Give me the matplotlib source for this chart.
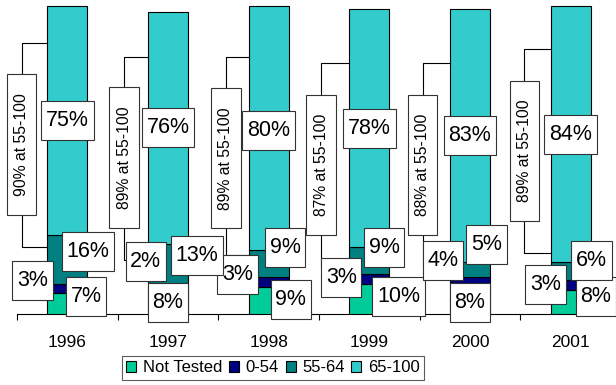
import matplotlib
matplotlib.use("Agg")
import matplotlib.pyplot as plt
from matplotlib.patches import Patch
import numpy as np

plt.rcParams['font.family'] = ['Liberation Sans', 'DejaVu Sans']

years = ["1996", "1997", "1998", "1999", "2000", "2001"]
series_names = ["Not Tested", "0-54", "55-64", "65-100"]
not_tested = [7, 8, 9, 10, 8, 8]
low_0_54 = [3, 2, 3, 3, 4, 3]
mid_55_64 = [16, 13, 9, 9, 5, 6]
high_65_100 = [75, 76, 80, 78, 83, 84]
bracket_labels = ["90% at 55-100", "89% at 55-100", "89% at 55-100",
                  "87% at 55-100", "88% at 55-100", "89% at 55-100"]

colors = ["#00CC99", "#000080", "#008080", "#33CCCC"]

# layout of annotations (offsets from category centre, y in %)
bracket_dx = [-0.453, -0.436, -0.425, -0.48, -0.47, -0.46]
bracket_top = [89.0, 84.4, 84.4, 82.2, 82.2, 86.8]
bracket_bot = [22.0, 17.7, 19.3, 15.5, 15.5, 20.1]
bracket_text_y = [55.6, 51.3, 51.1, 48.9, 48.9, 53.5]
# label positions per series: (dx, y)
pos_nt = [(0.186, 5.6), (0.0, 3.9), (0.219, 4.6), (0.29, 5.6), (0.0, 3.8), (0.249, 5.7)]
pos_low = [(-0.346, 11.1), (-0.221, 17.1), (-0.308, 12.8), (-0.279, 11.9), (-0.267, 17.6), (-0.251, 9.6)]
pos_mid = [(0.206, 20.5), (0.286, 19.2), (0.162, 21.8), (0.148, 21.8), (0.165, 22.7), (0.209, 17.5)]
pos_high = [(0.0, 63.6), (0.0, 61.1), (0.0, 60.2), (0.0, 61.0), (0.0, 58.6), (0.0, 59.0)]

fig = plt.figure(figsize=(6.16, 3.85), dpi=100)
ax = fig.add_axes([17/616, 71/385, 604/616, 314/385])
x = np.arange(len(years))
w = 0.4
series = [not_tested, low_0_54, mid_55_64, high_65_100]
bottom = np.zeros(len(years))
for vals, c, name in zip(series, colors, series_names):
    ax.bar(x, vals, w, bottom=bottom, color=c, edgecolor='black', linewidth=0.8,
           label=name, zorder=2)
    bottom += np.array(vals)

ax.set_xlim(-0.5, 5.5)
ax.set_ylim(0, 103)
for s in ['left', 'right', 'top']:
    ax.spines[s].set_visible(False)
ax.spines['bottom'].set_linewidth(0.8)
ax.spines['bottom'].set_zorder(1)
ax.set_yticks([])
ax.set_xticks(x, labels=years, fontsize=12.5)
ax.tick_params(axis='x', which='major', length=0, pad=15)
ax.set_xticks(np.arange(-0.5, 6.0, 1.0), minor=True)
ax.tick_params(axis='x', which='minor', length=4.5, width=0.8, direction='out')

# brackets
for i in range(len(years)):
    bx = x[i] + bracket_dx[i]
    left = x[i] - w / 2
    ax.plot([left, bx, bx, left], [bracket_top[i], bracket_top[i], bracket_bot[i], bracket_bot[i]],
            color='black', linewidth=0.8, zorder=3, clip_on=False)
    ax.text(bx, bracket_text_y[i], bracket_labels[i], rotation=90, fontsize=11.3,
            ha='center', va='center', zorder=5,
            bbox=dict(boxstyle='square,pad=1.2', mutation_aspect=0.38,
                      facecolor='white', edgecolor='#333333', linewidth=0.8))

# value labels
for vals, poss in zip(series, [pos_nt, pos_low, pos_mid, pos_high]):
    for i, v in enumerate(vals):
        dx, yy = poss[i]
        ax.text(x[i] + dx, yy, f"{v}%", fontsize=15.5, ha='center', va='center',
                zorder=6, clip_on=False,
                bbox=dict(boxstyle='square,pad=0.22', mutation_aspect=1.9,
                          facecolor='white', edgecolor='#333333', linewidth=0.8))

handles = [Patch(facecolor=c, edgecolor='black', linewidth=0.8) for c in colors]
leg = fig.legend(handles, series_names, loc='center', bbox_to_anchor=(273/616, 1 - 368/385),
                 ncol=4, fontsize=12, frameon=True, fancybox=False,
                 handlelength=0.6, handleheight=0.6, handletextpad=0.4,
                 columnspacing=0.4, borderpad=0.25, borderaxespad=0)
leg.get_frame().set_edgecolor('#333333')
leg.get_frame().set_linewidth(0.8)

fig.savefig("out.png", dpi=100)
